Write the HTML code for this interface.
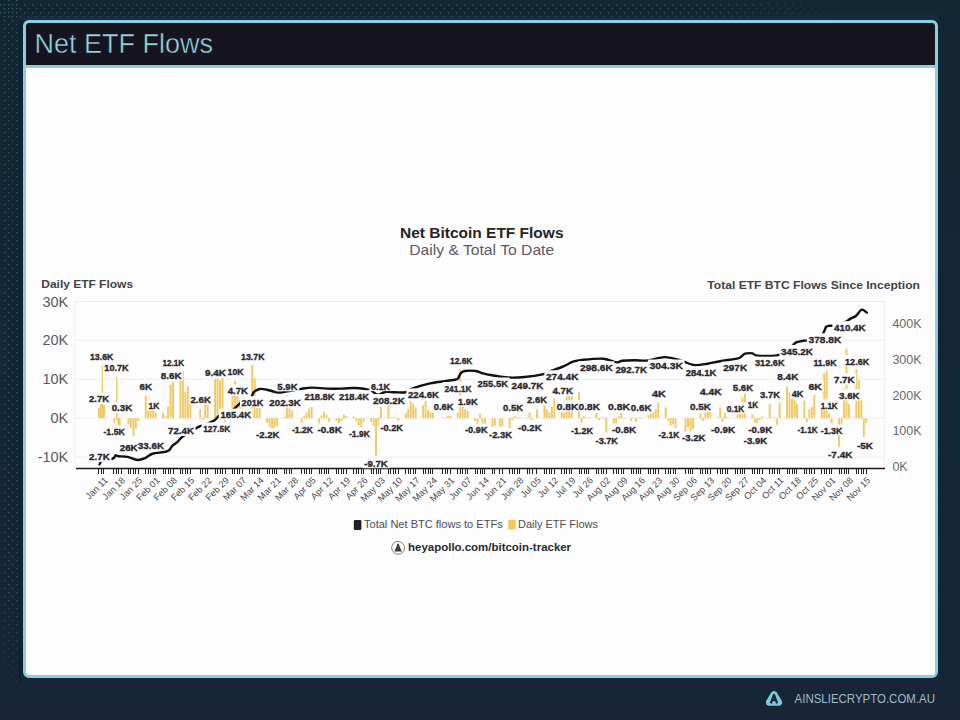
<!DOCTYPE html>
<html><head><meta charset="utf-8"><title>Net ETF Flows</title>
<style>
html,body{margin:0;padding:0;}
body{width:960px;height:720px;overflow:hidden;position:relative;background:linear-gradient(180deg,#112734 0%,#132736 55%,#172536 100%);font-family:"Liberation Sans",sans-serif;}
#dots{position:absolute;left:0;top:0;width:960px;height:720px;}
#frame{position:absolute;left:23px;top:20px;width:909px;height:652px;border:3px solid #8acee0;border-radius:6px;background:#fefdfe;overflow:hidden;}
#hdr{position:absolute;left:0;top:0;width:909px;height:42px;background:#16141f;border-bottom:3px solid #8acee0;}
#hdr span{position:absolute;left:8.5px;top:6px;font-size:27px;color:#98d4e2;letter-spacing:0px;white-space:nowrap;-webkit-text-stroke:0.45px #16141f;}
#foot{position:absolute;left:794px;top:690px;font-size:13px;color:#b9ccd6;white-space:nowrap;}
svg{position:absolute;left:0;top:0;}
</style></head><body>
<svg id="dots" width="960" height="720" viewBox="0 0 960 720">
<defs>
<pattern id="dpt" width="8" height="8" patternUnits="userSpaceOnUse" x="0" y="0">
<circle cx="0.6" cy="4.7" r="0.8" fill="#475f6d"/><circle cx="4.4" cy="0.5" r="0.8" fill="#475f6d"/>
</pattern>
<pattern id="dpl" width="8" height="8" patternUnits="userSpaceOnUse" x="0" y="0">
<circle cx="4.7" cy="4.6" r="0.8" fill="#475f6d"/><circle cx="0.5" cy="0.5" r="0.8" fill="#475f6d"/>
</pattern>
<linearGradient id="gtop" x1="0" y1="0" x2="1" y2="0"><stop offset="0" stop-color="#fff" stop-opacity="0.85"/><stop offset="0.8" stop-color="#fff" stop-opacity="0.75"/><stop offset="1" stop-color="#fff" stop-opacity="0"/></linearGradient>
<linearGradient id="gleft" x1="0" y1="0" x2="0" y2="1"><stop offset="0" stop-color="#fff" stop-opacity="0.85"/><stop offset="0.85" stop-color="#fff" stop-opacity="0.75"/><stop offset="1" stop-color="#fff" stop-opacity="0"/></linearGradient>
<linearGradient id="gsh" x1="0" y1="0" x2="0" y2="1"><stop offset="0" stop-color="#1a2d4c" stop-opacity="0"/><stop offset="1" stop-color="#1a2d4c" stop-opacity="0.7"/></linearGradient>
<mask id="mtop"><rect x="0" y="3" width="870" height="16" fill="url(#gtop)"/></mask>
<mask id="mleft"><rect x="2" y="0" width="17" height="705" fill="url(#gleft)"/></mask>
</defs>
<rect x="0" y="0" width="960" height="720" fill="url(#dpt)" mask="url(#mtop)"/>
<rect x="0" y="0" width="960" height="720" fill="url(#dpl)" mask="url(#mleft)"/>
<rect x="19" y="17" width="4" height="665" fill="#0f1f33" opacity="0.6"/>
<rect x="19" y="12" width="919" height="8" fill="url(#gsh)"/>
</svg>
<div id="frame"><div id="hdr"><span>Net ETF Flows</span></div></div>
<svg width="960" height="720" viewBox="0 0 960 720" font-family="Liberation Sans, sans-serif">
<text x="400" y="237.5" font-size="14.5" font-weight="bold" fill="#262428" textLength="163.5" lengthAdjust="spacingAndGlyphs">Net Bitcoin ETF Flows</text>
<text x="409.2" y="254.6" font-size="14.5" fill="#5c5a5e" textLength="145" lengthAdjust="spacingAndGlyphs">Daily &amp; Total To Date</text>
<text x="41.25" y="287.5" font-size="11.5" font-weight="bold" fill="#444246" textLength="91.8" lengthAdjust="spacingAndGlyphs">Daily ETF Flows</text>
<text x="707.3" y="288.5" font-size="11.5" font-weight="bold" fill="#444246" textLength="212.7" lengthAdjust="spacingAndGlyphs">Total ETF BTC Flows Since Inception</text>
<line x1="75.5" y1="301.5" x2="884.5" y2="301.5" stroke="#efedf1" stroke-width="1"/>
<line x1="75.5" y1="340.4" x2="884.5" y2="340.4" stroke="#efedf1" stroke-width="1"/>
<line x1="75.5" y1="379.3" x2="884.5" y2="379.3" stroke="#efedf1" stroke-width="1"/>
<line x1="75.5" y1="418.2" x2="884.5" y2="418.2" stroke="#efedf1" stroke-width="1"/>
<line x1="75.5" y1="457.1" x2="884.5" y2="457.1" stroke="#efedf1" stroke-width="1"/>
<line x1="75" y1="300" x2="75" y2="468" stroke="#f1eff3" stroke-width="1"/>
<line x1="884.5" y1="300" x2="884.5" y2="468" stroke="#f1eff3" stroke-width="1"/>
<text x="68.3" y="306.5" font-size="14.5" fill="#5a585c" text-anchor="end">30K</text>
<text x="68.3" y="345.4" font-size="14.5" fill="#5a585c" text-anchor="end">20K</text>
<text x="68.3" y="384.3" font-size="14.5" fill="#5a585c" text-anchor="end">10K</text>
<text x="68.3" y="423.2" font-size="14.5" fill="#5a585c" text-anchor="end">0K</text>
<text x="68.3" y="462.1" font-size="14.5" fill="#5a585c" text-anchor="end">-10K</text>
<text x="892.4" y="471.0" font-size="12.5" fill="#6a686c">0K</text>
<text x="892.4" y="435.3" font-size="12.5" fill="#6a686c">100K</text>
<text x="892.4" y="399.6" font-size="12.5" fill="#6a686c">200K</text>
<text x="892.4" y="363.9" font-size="12.5" fill="#6a686c">300K</text>
<text x="892.4" y="328.2" font-size="12.5" fill="#6a686c">400K</text>
<g fill="#efca62">
<rect x="97.95" y="408.09" width="1.9" height="10.11"/>
<rect x="99.95" y="404.20" width="1.9" height="14.00"/>
<rect x="101.65" y="365.30" width="1.3" height="52.90"/>
<rect x="102.95" y="404.97" width="1.9" height="13.23"/>
<rect x="113.45" y="418.20" width="1.9" height="4.67"/>
<rect x="116.05" y="376.97" width="1.5" height="41.23"/>
<rect x="116.05" y="418.20" width="1.5" height="1.56"/>
<rect x="117.55" y="418.20" width="1.5" height="8.56"/>
<rect x="119.00" y="418.20" width="1.6" height="12.45"/>
<rect x="127.49" y="418.20" width="1.9" height="5.83"/>
<rect x="129.96" y="418.20" width="1.9" height="9.72"/>
<rect x="132.44" y="418.20" width="1.9" height="17.50"/>
<rect x="134.91" y="418.20" width="1.9" height="10.89"/>
<rect x="137.39" y="418.20" width="1.9" height="3.11"/>
<rect x="144.82" y="395.64" width="1.9" height="22.56"/>
<rect x="147.29" y="398.36" width="1.9" height="19.84"/>
<rect x="149.77" y="411.20" width="1.9" height="7.00"/>
<rect x="152.25" y="409.25" width="1.9" height="8.95"/>
<rect x="154.72" y="412.37" width="1.9" height="5.83"/>
<rect x="162.15" y="412.75" width="1.9" height="5.45"/>
<rect x="164.63" y="416.25" width="1.9" height="1.95"/>
<rect x="167.10" y="406.53" width="1.9" height="11.67"/>
<rect x="169.58" y="384.75" width="1.9" height="33.45"/>
<rect x="172.05" y="382.02" width="1.9" height="36.18"/>
<rect x="179.48" y="380.86" width="1.9" height="37.34"/>
<rect x="181.96" y="371.13" width="1.9" height="47.07"/>
<rect x="184.43" y="391.75" width="1.9" height="26.45"/>
<rect x="186.91" y="386.30" width="1.9" height="31.90"/>
<rect x="189.39" y="392.91" width="1.9" height="25.29"/>
<rect x="199.29" y="409.25" width="1.9" height="8.95"/>
<rect x="201.77" y="418.20" width="1.9" height="1.95"/>
<rect x="204.24" y="404.58" width="1.9" height="13.62"/>
<rect x="206.72" y="404.58" width="1.9" height="13.62"/>
<rect x="214.15" y="379.30" width="1.9" height="38.90"/>
<rect x="216.62" y="378.13" width="1.9" height="40.07"/>
<rect x="219.10" y="380.08" width="1.9" height="38.12"/>
<rect x="221.57" y="378.13" width="1.9" height="40.07"/>
<rect x="224.05" y="418.20" width="1.9" height="3.89"/>
<rect x="231.48" y="385.52" width="1.9" height="32.68"/>
<rect x="233.95" y="380.86" width="1.9" height="37.34"/>
<rect x="236.43" y="394.86" width="1.9" height="23.34"/>
<rect x="238.91" y="399.92" width="1.9" height="18.28"/>
<rect x="241.38" y="394.86" width="1.9" height="23.34"/>
<rect x="248.81" y="409.25" width="1.9" height="8.95"/>
<rect x="251.29" y="364.91" width="1.9" height="53.29"/>
<rect x="253.76" y="378.52" width="1.9" height="39.68"/>
<rect x="256.24" y="407.70" width="1.9" height="10.50"/>
<rect x="258.71" y="408.09" width="1.9" height="10.11"/>
<rect x="266.14" y="418.20" width="1.9" height="4.67"/>
<rect x="268.62" y="418.20" width="1.9" height="8.95"/>
<rect x="271.09" y="418.20" width="1.9" height="11.28"/>
<rect x="273.57" y="418.20" width="1.9" height="9.72"/>
<rect x="276.05" y="418.20" width="1.9" height="7.78"/>
<rect x="283.47" y="417.03" width="1.9" height="1.17"/>
<rect x="285.95" y="395.25" width="1.9" height="22.95"/>
<rect x="288.43" y="408.47" width="1.9" height="9.72"/>
<rect x="290.90" y="410.42" width="1.9" height="7.78"/>
<rect x="300.81" y="418.20" width="1.9" height="4.67"/>
<rect x="303.28" y="415.48" width="1.9" height="2.72"/>
<rect x="305.76" y="412.37" width="1.9" height="5.83"/>
<rect x="308.23" y="408.47" width="1.9" height="9.72"/>
<rect x="310.71" y="406.92" width="1.9" height="11.28"/>
<rect x="318.14" y="418.20" width="1.9" height="8.17"/>
<rect x="320.61" y="415.48" width="1.9" height="2.72"/>
<rect x="323.09" y="411.98" width="1.9" height="6.22"/>
<rect x="325.57" y="414.70" width="1.9" height="3.50"/>
<rect x="328.04" y="418.20" width="1.9" height="3.50"/>
<rect x="335.47" y="418.20" width="1.9" height="2.72"/>
<rect x="337.95" y="418.20" width="1.9" height="6.22"/>
<rect x="340.42" y="418.20" width="1.9" height="2.72"/>
<rect x="342.90" y="414.70" width="1.9" height="3.50"/>
<rect x="345.37" y="416.25" width="1.9" height="1.95"/>
<rect x="352.80" y="416.25" width="1.9" height="1.95"/>
<rect x="355.28" y="418.20" width="1.9" height="2.72"/>
<rect x="357.75" y="418.20" width="1.9" height="7.39"/>
<rect x="360.23" y="418.20" width="1.9" height="8.95"/>
<rect x="362.71" y="418.20" width="1.9" height="3.50"/>
<rect x="370.13" y="418.20" width="1.9" height="3.50"/>
<rect x="372.61" y="418.20" width="1.9" height="7.39"/>
<rect x="375.09" y="418.20" width="1.9" height="37.73"/>
<rect x="377.56" y="418.20" width="1.9" height="7.39"/>
<rect x="380.04" y="407.31" width="1.9" height="10.89"/>
<rect x="387.47" y="405.36" width="1.9" height="12.84"/>
<rect x="389.94" y="417.42" width="1.9" height="0.78"/>
<rect x="392.42" y="417.42" width="1.9" height="0.78"/>
<rect x="394.89" y="417.81" width="1.9" height="0.39"/>
<rect x="397.37" y="418.20" width="1.9" height="3.50"/>
<rect x="404.80" y="413.53" width="1.9" height="4.67"/>
<rect x="407.27" y="409.25" width="1.9" height="8.95"/>
<rect x="409.75" y="401.08" width="1.9" height="17.12"/>
<rect x="412.23" y="403.81" width="1.9" height="14.39"/>
<rect x="414.70" y="407.31" width="1.9" height="10.89"/>
<rect x="422.13" y="405.36" width="1.9" height="12.84"/>
<rect x="424.61" y="401.08" width="1.9" height="17.12"/>
<rect x="427.08" y="410.03" width="1.9" height="8.17"/>
<rect x="429.56" y="411.98" width="1.9" height="6.22"/>
<rect x="432.03" y="412.75" width="1.9" height="5.45"/>
<rect x="441.94" y="417.42" width="1.9" height="0.78"/>
<rect x="444.41" y="417.42" width="1.9" height="0.78"/>
<rect x="446.89" y="416.25" width="1.9" height="1.95"/>
<rect x="449.37" y="415.87" width="1.9" height="2.33"/>
<rect x="456.79" y="412.75" width="1.9" height="5.45"/>
<rect x="459.27" y="369.19" width="1.9" height="49.01"/>
<rect x="461.75" y="403.81" width="1.9" height="14.39"/>
<rect x="464.22" y="409.25" width="1.9" height="8.95"/>
<rect x="466.70" y="410.81" width="1.9" height="7.39"/>
<rect x="474.13" y="418.20" width="1.9" height="2.72"/>
<rect x="476.60" y="418.20" width="1.9" height="6.22"/>
<rect x="479.08" y="413.53" width="1.9" height="4.67"/>
<rect x="481.55" y="418.20" width="1.9" height="7.39"/>
<rect x="484.03" y="418.20" width="1.9" height="7.39"/>
<rect x="491.46" y="418.20" width="1.9" height="8.95"/>
<rect x="493.93" y="418.20" width="1.9" height="7.39"/>
<rect x="498.89" y="418.20" width="1.9" height="8.17"/>
<rect x="501.36" y="418.20" width="1.9" height="8.17"/>
<rect x="508.79" y="418.20" width="1.9" height="10.89"/>
<rect x="511.27" y="418.20" width="1.9" height="1.95"/>
<rect x="513.74" y="416.25" width="1.9" height="1.95"/>
<rect x="516.22" y="417.42" width="1.9" height="0.78"/>
<rect x="518.69" y="417.42" width="1.9" height="0.78"/>
<rect x="526.12" y="417.42" width="1.9" height="0.78"/>
<rect x="528.60" y="412.75" width="1.9" height="5.45"/>
<rect x="531.07" y="418.20" width="1.9" height="1.95"/>
<rect x="536.03" y="409.25" width="1.9" height="8.95"/>
<rect x="543.45" y="405.36" width="1.9" height="12.84"/>
<rect x="545.93" y="409.25" width="1.9" height="8.95"/>
<rect x="548.41" y="412.75" width="1.9" height="5.45"/>
<rect x="550.88" y="406.53" width="1.9" height="11.67"/>
<rect x="553.36" y="398.36" width="1.9" height="19.84"/>
<rect x="560.79" y="411.98" width="1.9" height="6.22"/>
<rect x="563.26" y="412.75" width="1.9" height="5.45"/>
<rect x="565.74" y="396.42" width="1.9" height="21.78"/>
<rect x="568.21" y="394.86" width="1.9" height="23.34"/>
<rect x="570.69" y="396.42" width="1.9" height="21.78"/>
<rect x="578.12" y="391.75" width="1.9" height="26.45"/>
<rect x="580.59" y="418.20" width="1.9" height="4.67"/>
<rect x="583.07" y="416.25" width="1.9" height="1.95"/>
<rect x="585.55" y="417.42" width="1.9" height="0.78"/>
<rect x="588.02" y="417.42" width="1.9" height="0.78"/>
<rect x="595.45" y="412.75" width="1.9" height="5.45"/>
<rect x="597.93" y="418.20" width="1.9" height="1.95"/>
<rect x="600.40" y="417.81" width="1.9" height="0.39"/>
<rect x="602.88" y="417.42" width="1.9" height="0.78"/>
<rect x="605.35" y="418.20" width="1.9" height="14.39"/>
<rect x="612.78" y="418.20" width="1.9" height="8.95"/>
<rect x="615.26" y="418.20" width="1.9" height="5.45"/>
<rect x="617.73" y="416.25" width="1.9" height="1.95"/>
<rect x="620.21" y="412.75" width="1.9" height="5.45"/>
<rect x="622.69" y="417.42" width="1.9" height="0.78"/>
<rect x="630.11" y="418.20" width="1.9" height="2.72"/>
<rect x="632.59" y="417.42" width="1.9" height="0.78"/>
<rect x="635.07" y="418.20" width="1.9" height="3.50"/>
<rect x="637.54" y="417.42" width="1.9" height="0.78"/>
<rect x="640.02" y="417.42" width="1.9" height="0.78"/>
<rect x="647.45" y="414.70" width="1.9" height="3.50"/>
<rect x="649.92" y="413.53" width="1.9" height="4.67"/>
<rect x="652.40" y="411.98" width="1.9" height="6.22"/>
<rect x="654.87" y="409.25" width="1.9" height="8.95"/>
<rect x="657.35" y="402.64" width="1.9" height="15.56"/>
<rect x="664.78" y="407.31" width="1.9" height="10.89"/>
<rect x="667.25" y="418.20" width="1.9" height="2.72"/>
<rect x="669.73" y="418.20" width="1.9" height="7.39"/>
<rect x="672.21" y="418.20" width="1.9" height="6.22"/>
<rect x="674.68" y="418.20" width="1.9" height="11.67"/>
<rect x="684.59" y="418.20" width="1.9" height="15.56"/>
<rect x="687.06" y="418.20" width="1.9" height="8.95"/>
<rect x="689.54" y="418.20" width="1.9" height="12.84"/>
<rect x="692.01" y="418.20" width="1.9" height="10.89"/>
<rect x="699.44" y="413.53" width="1.9" height="4.67"/>
<rect x="701.92" y="418.20" width="1.9" height="2.72"/>
<rect x="704.39" y="412.75" width="1.9" height="5.45"/>
<rect x="706.87" y="401.86" width="1.9" height="16.34"/>
<rect x="709.35" y="411.98" width="1.9" height="6.22"/>
<rect x="716.77" y="417.42" width="1.9" height="0.78"/>
<rect x="719.25" y="407.31" width="1.9" height="10.89"/>
<rect x="721.73" y="418.20" width="1.9" height="3.50"/>
<rect x="724.20" y="412.75" width="1.9" height="5.45"/>
<rect x="726.68" y="417.42" width="1.9" height="0.78"/>
<rect x="734.11" y="417.81" width="1.9" height="0.39"/>
<rect x="736.58" y="414.31" width="1.9" height="3.89"/>
<rect x="739.06" y="413.92" width="1.9" height="4.28"/>
<rect x="741.53" y="397.58" width="1.9" height="20.62"/>
<rect x="744.01" y="393.69" width="1.9" height="24.51"/>
<rect x="751.44" y="414.31" width="1.9" height="3.89"/>
<rect x="753.91" y="418.20" width="1.9" height="6.22"/>
<rect x="756.39" y="418.20" width="1.9" height="4.67"/>
<rect x="758.87" y="418.20" width="1.9" height="1.95"/>
<rect x="761.34" y="416.64" width="1.9" height="1.56"/>
<rect x="768.77" y="403.81" width="1.9" height="14.39"/>
<rect x="771.25" y="417.81" width="1.9" height="0.39"/>
<rect x="773.72" y="417.81" width="1.9" height="0.39"/>
<rect x="776.20" y="418.20" width="1.9" height="6.61"/>
<rect x="778.67" y="402.25" width="1.9" height="15.95"/>
<rect x="786.10" y="386.69" width="1.9" height="31.51"/>
<rect x="788.58" y="392.14" width="1.9" height="26.06"/>
<rect x="791.05" y="398.75" width="1.9" height="19.45"/>
<rect x="793.53" y="399.53" width="1.9" height="18.67"/>
<rect x="796.01" y="403.81" width="1.9" height="14.39"/>
<rect x="803.43" y="400.69" width="1.9" height="17.50"/>
<rect x="805.91" y="418.20" width="1.9" height="3.89"/>
<rect x="808.39" y="409.25" width="1.9" height="8.95"/>
<rect x="810.86" y="406.92" width="1.9" height="11.28"/>
<rect x="813.34" y="394.86" width="1.9" height="23.34"/>
<rect x="820.77" y="400.31" width="1.9" height="17.89"/>
<rect x="823.24" y="373.08" width="1.9" height="45.12"/>
<rect x="825.72" y="370.74" width="1.9" height="47.46"/>
<rect x="828.19" y="413.53" width="1.9" height="4.67"/>
<rect x="830.67" y="418.20" width="1.9" height="5.06"/>
<rect x="838.10" y="418.20" width="1.9" height="28.79"/>
<rect x="840.57" y="418.20" width="1.9" height="6.61"/>
<rect x="843.05" y="388.25" width="1.9" height="29.95"/>
<rect x="845.53" y="348.96" width="1.9" height="69.24"/>
<rect x="848.00" y="404.20" width="1.9" height="14.00"/>
<rect x="855.43" y="369.19" width="1.9" height="49.01"/>
<rect x="857.91" y="380.08" width="1.9" height="38.12"/>
<rect x="860.38" y="399.92" width="1.9" height="18.28"/>
<rect x="862.86" y="418.20" width="1.9" height="18.67"/>
<rect x="865.33" y="418.20" width="1.9" height="4.67"/>
</g>
<line x1="76" y1="468.5" x2="885" y2="468.5" stroke="#1a1a1a" stroke-width="1.6"/>
<g stroke="#222" stroke-width="1">
<line x1="98.5" y1="469" x2="98.5" y2="474"/>
<line x1="101.5" y1="469" x2="101.5" y2="474"/>
<line x1="103.5" y1="469" x2="103.5" y2="474"/>
<line x1="113.5" y1="469" x2="113.5" y2="474"/>
<line x1="116.5" y1="469" x2="116.5" y2="474"/>
<line x1="118.5" y1="469" x2="118.5" y2="474"/>
<line x1="121.5" y1="469" x2="121.5" y2="474"/>
<line x1="128.5" y1="469" x2="128.5" y2="474"/>
<line x1="130.5" y1="469" x2="130.5" y2="474"/>
<line x1="133.5" y1="469" x2="133.5" y2="474"/>
<line x1="135.5" y1="469" x2="135.5" y2="474"/>
<line x1="138.5" y1="469" x2="138.5" y2="474"/>
<line x1="145.5" y1="469" x2="145.5" y2="474"/>
<line x1="148.5" y1="469" x2="148.5" y2="474"/>
<line x1="150.5" y1="469" x2="150.5" y2="474"/>
<line x1="153.5" y1="469" x2="153.5" y2="474"/>
<line x1="155.5" y1="469" x2="155.5" y2="474"/>
<line x1="163.5" y1="469" x2="163.5" y2="474"/>
<line x1="165.5" y1="469" x2="165.5" y2="474"/>
<line x1="168.5" y1="469" x2="168.5" y2="474"/>
<line x1="170.5" y1="469" x2="170.5" y2="474"/>
<line x1="173.5" y1="469" x2="173.5" y2="474"/>
<line x1="180.5" y1="469" x2="180.5" y2="474"/>
<line x1="182.5" y1="469" x2="182.5" y2="474"/>
<line x1="185.5" y1="469" x2="185.5" y2="474"/>
<line x1="187.5" y1="469" x2="187.5" y2="474"/>
<line x1="190.5" y1="469" x2="190.5" y2="474"/>
<line x1="200.5" y1="469" x2="200.5" y2="474"/>
<line x1="202.5" y1="469" x2="202.5" y2="474"/>
<line x1="205.5" y1="469" x2="205.5" y2="474"/>
<line x1="207.5" y1="469" x2="207.5" y2="474"/>
<line x1="215.5" y1="469" x2="215.5" y2="474"/>
<line x1="217.5" y1="469" x2="217.5" y2="474"/>
<line x1="220.5" y1="469" x2="220.5" y2="474"/>
<line x1="222.5" y1="469" x2="222.5" y2="474"/>
<line x1="225.5" y1="469" x2="225.5" y2="474"/>
<line x1="232.5" y1="469" x2="232.5" y2="474"/>
<line x1="234.5" y1="469" x2="234.5" y2="474"/>
<line x1="237.5" y1="469" x2="237.5" y2="474"/>
<line x1="239.5" y1="469" x2="239.5" y2="474"/>
<line x1="242.5" y1="469" x2="242.5" y2="474"/>
<line x1="249.5" y1="469" x2="249.5" y2="474"/>
<line x1="252.5" y1="469" x2="252.5" y2="474"/>
<line x1="254.5" y1="469" x2="254.5" y2="474"/>
<line x1="257.5" y1="469" x2="257.5" y2="474"/>
<line x1="259.5" y1="469" x2="259.5" y2="474"/>
<line x1="267.5" y1="469" x2="267.5" y2="474"/>
<line x1="269.5" y1="469" x2="269.5" y2="474"/>
<line x1="272.5" y1="469" x2="272.5" y2="474"/>
<line x1="274.5" y1="469" x2="274.5" y2="474"/>
<line x1="276.5" y1="469" x2="276.5" y2="474"/>
<line x1="284.5" y1="469" x2="284.5" y2="474"/>
<line x1="286.5" y1="469" x2="286.5" y2="474"/>
<line x1="289.5" y1="469" x2="289.5" y2="474"/>
<line x1="291.5" y1="469" x2="291.5" y2="474"/>
<line x1="301.5" y1="469" x2="301.5" y2="474"/>
<line x1="304.5" y1="469" x2="304.5" y2="474"/>
<line x1="306.5" y1="469" x2="306.5" y2="474"/>
<line x1="309.5" y1="469" x2="309.5" y2="474"/>
<line x1="311.5" y1="469" x2="311.5" y2="474"/>
<line x1="319.5" y1="469" x2="319.5" y2="474"/>
<line x1="321.5" y1="469" x2="321.5" y2="474"/>
<line x1="324.5" y1="469" x2="324.5" y2="474"/>
<line x1="326.5" y1="469" x2="326.5" y2="474"/>
<line x1="328.5" y1="469" x2="328.5" y2="474"/>
<line x1="336.5" y1="469" x2="336.5" y2="474"/>
<line x1="338.5" y1="469" x2="338.5" y2="474"/>
<line x1="341.5" y1="469" x2="341.5" y2="474"/>
<line x1="343.5" y1="469" x2="343.5" y2="474"/>
<line x1="346.5" y1="469" x2="346.5" y2="474"/>
<line x1="353.5" y1="469" x2="353.5" y2="474"/>
<line x1="356.5" y1="469" x2="356.5" y2="474"/>
<line x1="358.5" y1="469" x2="358.5" y2="474"/>
<line x1="361.5" y1="469" x2="361.5" y2="474"/>
<line x1="363.5" y1="469" x2="363.5" y2="474"/>
<line x1="371.5" y1="469" x2="371.5" y2="474"/>
<line x1="373.5" y1="469" x2="373.5" y2="474"/>
<line x1="376.5" y1="469" x2="376.5" y2="474"/>
<line x1="378.5" y1="469" x2="378.5" y2="474"/>
<line x1="380.5" y1="469" x2="380.5" y2="474"/>
<line x1="388.5" y1="469" x2="388.5" y2="474"/>
<line x1="390.5" y1="469" x2="390.5" y2="474"/>
<line x1="393.5" y1="469" x2="393.5" y2="474"/>
<line x1="395.5" y1="469" x2="395.5" y2="474"/>
<line x1="398.5" y1="469" x2="398.5" y2="474"/>
<line x1="405.5" y1="469" x2="405.5" y2="474"/>
<line x1="408.5" y1="469" x2="408.5" y2="474"/>
<line x1="410.5" y1="469" x2="410.5" y2="474"/>
<line x1="413.5" y1="469" x2="413.5" y2="474"/>
<line x1="415.5" y1="469" x2="415.5" y2="474"/>
<line x1="423.5" y1="469" x2="423.5" y2="474"/>
<line x1="425.5" y1="469" x2="425.5" y2="474"/>
<line x1="428.5" y1="469" x2="428.5" y2="474"/>
<line x1="430.5" y1="469" x2="430.5" y2="474"/>
<line x1="432.5" y1="469" x2="432.5" y2="474"/>
<line x1="442.5" y1="469" x2="442.5" y2="474"/>
<line x1="445.5" y1="469" x2="445.5" y2="474"/>
<line x1="447.5" y1="469" x2="447.5" y2="474"/>
<line x1="450.5" y1="469" x2="450.5" y2="474"/>
<line x1="457.5" y1="469" x2="457.5" y2="474"/>
<line x1="460.5" y1="469" x2="460.5" y2="474"/>
<line x1="462.5" y1="469" x2="462.5" y2="474"/>
<line x1="465.5" y1="469" x2="465.5" y2="474"/>
<line x1="467.5" y1="469" x2="467.5" y2="474"/>
<line x1="475.5" y1="469" x2="475.5" y2="474"/>
<line x1="477.5" y1="469" x2="477.5" y2="474"/>
<line x1="480.5" y1="469" x2="480.5" y2="474"/>
<line x1="482.5" y1="469" x2="482.5" y2="474"/>
<line x1="484.5" y1="469" x2="484.5" y2="474"/>
<line x1="492.5" y1="469" x2="492.5" y2="474"/>
<line x1="494.5" y1="469" x2="494.5" y2="474"/>
<line x1="499.5" y1="469" x2="499.5" y2="474"/>
<line x1="502.5" y1="469" x2="502.5" y2="474"/>
<line x1="509.5" y1="469" x2="509.5" y2="474"/>
<line x1="512.5" y1="469" x2="512.5" y2="474"/>
<line x1="514.5" y1="469" x2="514.5" y2="474"/>
<line x1="517.5" y1="469" x2="517.5" y2="474"/>
<line x1="519.5" y1="469" x2="519.5" y2="474"/>
<line x1="527.5" y1="469" x2="527.5" y2="474"/>
<line x1="529.5" y1="469" x2="529.5" y2="474"/>
<line x1="532.5" y1="469" x2="532.5" y2="474"/>
<line x1="536.5" y1="469" x2="536.5" y2="474"/>
<line x1="544.5" y1="469" x2="544.5" y2="474"/>
<line x1="546.5" y1="469" x2="546.5" y2="474"/>
<line x1="549.5" y1="469" x2="549.5" y2="474"/>
<line x1="551.5" y1="469" x2="551.5" y2="474"/>
<line x1="554.5" y1="469" x2="554.5" y2="474"/>
<line x1="561.5" y1="469" x2="561.5" y2="474"/>
<line x1="564.5" y1="469" x2="564.5" y2="474"/>
<line x1="566.5" y1="469" x2="566.5" y2="474"/>
<line x1="569.5" y1="469" x2="569.5" y2="474"/>
<line x1="571.5" y1="469" x2="571.5" y2="474"/>
<line x1="579.5" y1="469" x2="579.5" y2="474"/>
<line x1="581.5" y1="469" x2="581.5" y2="474"/>
<line x1="584.5" y1="469" x2="584.5" y2="474"/>
<line x1="586.5" y1="469" x2="586.5" y2="474"/>
<line x1="588.5" y1="469" x2="588.5" y2="474"/>
<line x1="596.5" y1="469" x2="596.5" y2="474"/>
<line x1="598.5" y1="469" x2="598.5" y2="474"/>
<line x1="601.5" y1="469" x2="601.5" y2="474"/>
<line x1="603.5" y1="469" x2="603.5" y2="474"/>
<line x1="606.5" y1="469" x2="606.5" y2="474"/>
<line x1="613.5" y1="469" x2="613.5" y2="474"/>
<line x1="616.5" y1="469" x2="616.5" y2="474"/>
<line x1="618.5" y1="469" x2="618.5" y2="474"/>
<line x1="621.5" y1="469" x2="621.5" y2="474"/>
<line x1="623.5" y1="469" x2="623.5" y2="474"/>
<line x1="631.5" y1="469" x2="631.5" y2="474"/>
<line x1="633.5" y1="469" x2="633.5" y2="474"/>
<line x1="636.5" y1="469" x2="636.5" y2="474"/>
<line x1="638.5" y1="469" x2="638.5" y2="474"/>
<line x1="640.5" y1="469" x2="640.5" y2="474"/>
<line x1="648.5" y1="469" x2="648.5" y2="474"/>
<line x1="650.5" y1="469" x2="650.5" y2="474"/>
<line x1="653.5" y1="469" x2="653.5" y2="474"/>
<line x1="655.5" y1="469" x2="655.5" y2="474"/>
<line x1="658.5" y1="469" x2="658.5" y2="474"/>
<line x1="665.5" y1="469" x2="665.5" y2="474"/>
<line x1="668.5" y1="469" x2="668.5" y2="474"/>
<line x1="670.5" y1="469" x2="670.5" y2="474"/>
<line x1="673.5" y1="469" x2="673.5" y2="474"/>
<line x1="675.5" y1="469" x2="675.5" y2="474"/>
<line x1="685.5" y1="469" x2="685.5" y2="474"/>
<line x1="688.5" y1="469" x2="688.5" y2="474"/>
<line x1="690.5" y1="469" x2="690.5" y2="474"/>
<line x1="692.5" y1="469" x2="692.5" y2="474"/>
<line x1="700.5" y1="469" x2="700.5" y2="474"/>
<line x1="702.5" y1="469" x2="702.5" y2="474"/>
<line x1="705.5" y1="469" x2="705.5" y2="474"/>
<line x1="707.5" y1="469" x2="707.5" y2="474"/>
<line x1="710.5" y1="469" x2="710.5" y2="474"/>
<line x1="717.5" y1="469" x2="717.5" y2="474"/>
<line x1="720.5" y1="469" x2="720.5" y2="474"/>
<line x1="722.5" y1="469" x2="722.5" y2="474"/>
<line x1="725.5" y1="469" x2="725.5" y2="474"/>
<line x1="727.5" y1="469" x2="727.5" y2="474"/>
<line x1="735.5" y1="469" x2="735.5" y2="474"/>
<line x1="737.5" y1="469" x2="737.5" y2="474"/>
<line x1="740.5" y1="469" x2="740.5" y2="474"/>
<line x1="742.5" y1="469" x2="742.5" y2="474"/>
<line x1="744.5" y1="469" x2="744.5" y2="474"/>
<line x1="752.5" y1="469" x2="752.5" y2="474"/>
<line x1="754.5" y1="469" x2="754.5" y2="474"/>
<line x1="757.5" y1="469" x2="757.5" y2="474"/>
<line x1="759.5" y1="469" x2="759.5" y2="474"/>
<line x1="762.5" y1="469" x2="762.5" y2="474"/>
<line x1="769.5" y1="469" x2="769.5" y2="474"/>
<line x1="772.5" y1="469" x2="772.5" y2="474"/>
<line x1="774.5" y1="469" x2="774.5" y2="474"/>
<line x1="777.5" y1="469" x2="777.5" y2="474"/>
<line x1="779.5" y1="469" x2="779.5" y2="474"/>
<line x1="787.5" y1="469" x2="787.5" y2="474"/>
<line x1="789.5" y1="469" x2="789.5" y2="474"/>
<line x1="792.5" y1="469" x2="792.5" y2="474"/>
<line x1="794.5" y1="469" x2="794.5" y2="474"/>
<line x1="796.5" y1="469" x2="796.5" y2="474"/>
<line x1="804.5" y1="469" x2="804.5" y2="474"/>
<line x1="806.5" y1="469" x2="806.5" y2="474"/>
<line x1="809.5" y1="469" x2="809.5" y2="474"/>
<line x1="811.5" y1="469" x2="811.5" y2="474"/>
<line x1="814.5" y1="469" x2="814.5" y2="474"/>
<line x1="821.5" y1="469" x2="821.5" y2="474"/>
<line x1="824.5" y1="469" x2="824.5" y2="474"/>
<line x1="826.5" y1="469" x2="826.5" y2="474"/>
<line x1="829.5" y1="469" x2="829.5" y2="474"/>
<line x1="831.5" y1="469" x2="831.5" y2="474"/>
<line x1="839.5" y1="469" x2="839.5" y2="474"/>
<line x1="841.5" y1="469" x2="841.5" y2="474"/>
<line x1="844.5" y1="469" x2="844.5" y2="474"/>
<line x1="846.5" y1="469" x2="846.5" y2="474"/>
<line x1="848.5" y1="469" x2="848.5" y2="474"/>
<line x1="856.5" y1="469" x2="856.5" y2="474"/>
<line x1="858.5" y1="469" x2="858.5" y2="474"/>
<line x1="861.5" y1="469" x2="861.5" y2="474"/>
<line x1="863.5" y1="469" x2="863.5" y2="474"/>
<line x1="866.5" y1="469" x2="866.5" y2="474"/>
</g>
<text transform="translate(108.3,481) rotate(-45)" font-size="9.2" fill="#4a484c" text-anchor="end">Jan 11</text>
<text transform="translate(125.6,481) rotate(-45)" font-size="9.2" fill="#4a484c" text-anchor="end">Jan 18</text>
<text transform="translate(142.9,481) rotate(-45)" font-size="9.2" fill="#4a484c" text-anchor="end">Jan 25</text>
<text transform="translate(160.3,481) rotate(-45)" font-size="9.2" fill="#4a484c" text-anchor="end">Feb 01</text>
<text transform="translate(177.6,481) rotate(-45)" font-size="9.2" fill="#4a484c" text-anchor="end">Feb 08</text>
<text transform="translate(194.9,481) rotate(-45)" font-size="9.2" fill="#4a484c" text-anchor="end">Feb 15</text>
<text transform="translate(212.3,481) rotate(-45)" font-size="9.2" fill="#4a484c" text-anchor="end">Feb 22</text>
<text transform="translate(229.6,481) rotate(-45)" font-size="9.2" fill="#4a484c" text-anchor="end">Feb 29</text>
<text transform="translate(246.9,481) rotate(-45)" font-size="9.2" fill="#4a484c" text-anchor="end">Mar 07</text>
<text transform="translate(264.3,481) rotate(-45)" font-size="9.2" fill="#4a484c" text-anchor="end">Mar 14</text>
<text transform="translate(281.6,481) rotate(-45)" font-size="9.2" fill="#4a484c" text-anchor="end">Mar 21</text>
<text transform="translate(298.9,481) rotate(-45)" font-size="9.2" fill="#4a484c" text-anchor="end">Mar 28</text>
<text transform="translate(316.3,481) rotate(-45)" font-size="9.2" fill="#4a484c" text-anchor="end">Apr 05</text>
<text transform="translate(333.6,481) rotate(-45)" font-size="9.2" fill="#4a484c" text-anchor="end">Apr 12</text>
<text transform="translate(350.9,481) rotate(-45)" font-size="9.2" fill="#4a484c" text-anchor="end">Apr 19</text>
<text transform="translate(368.3,481) rotate(-45)" font-size="9.2" fill="#4a484c" text-anchor="end">Apr 26</text>
<text transform="translate(385.6,481) rotate(-45)" font-size="9.2" fill="#4a484c" text-anchor="end">May 03</text>
<text transform="translate(402.9,481) rotate(-45)" font-size="9.2" fill="#4a484c" text-anchor="end">May 10</text>
<text transform="translate(420.3,481) rotate(-45)" font-size="9.2" fill="#4a484c" text-anchor="end">May 17</text>
<text transform="translate(437.6,481) rotate(-45)" font-size="9.2" fill="#4a484c" text-anchor="end">May 24</text>
<text transform="translate(454.9,481) rotate(-45)" font-size="9.2" fill="#4a484c" text-anchor="end">May 31</text>
<text transform="translate(472.2,481) rotate(-45)" font-size="9.2" fill="#4a484c" text-anchor="end">Jun 07</text>
<text transform="translate(489.6,481) rotate(-45)" font-size="9.2" fill="#4a484c" text-anchor="end">Jun 14</text>
<text transform="translate(506.9,481) rotate(-45)" font-size="9.2" fill="#4a484c" text-anchor="end">Jun 21</text>
<text transform="translate(524.2,481) rotate(-45)" font-size="9.2" fill="#4a484c" text-anchor="end">Jun 28</text>
<text transform="translate(541.6,481) rotate(-45)" font-size="9.2" fill="#4a484c" text-anchor="end">Jul 05</text>
<text transform="translate(558.9,481) rotate(-45)" font-size="9.2" fill="#4a484c" text-anchor="end">Jul 12</text>
<text transform="translate(576.2,481) rotate(-45)" font-size="9.2" fill="#4a484c" text-anchor="end">Jul 19</text>
<text transform="translate(593.6,481) rotate(-45)" font-size="9.2" fill="#4a484c" text-anchor="end">Jul 26</text>
<text transform="translate(610.9,481) rotate(-45)" font-size="9.2" fill="#4a484c" text-anchor="end">Aug 02</text>
<text transform="translate(628.2,481) rotate(-45)" font-size="9.2" fill="#4a484c" text-anchor="end">Aug 09</text>
<text transform="translate(645.6,481) rotate(-45)" font-size="9.2" fill="#4a484c" text-anchor="end">Aug 16</text>
<text transform="translate(662.9,481) rotate(-45)" font-size="9.2" fill="#4a484c" text-anchor="end">Aug 23</text>
<text transform="translate(680.2,481) rotate(-45)" font-size="9.2" fill="#4a484c" text-anchor="end">Aug 30</text>
<text transform="translate(697.6,481) rotate(-45)" font-size="9.2" fill="#4a484c" text-anchor="end">Sep 06</text>
<text transform="translate(714.9,481) rotate(-45)" font-size="9.2" fill="#4a484c" text-anchor="end">Sep 13</text>
<text transform="translate(732.2,481) rotate(-45)" font-size="9.2" fill="#4a484c" text-anchor="end">Sep 20</text>
<text transform="translate(749.6,481) rotate(-45)" font-size="9.2" fill="#4a484c" text-anchor="end">Sep 27</text>
<text transform="translate(766.9,481) rotate(-45)" font-size="9.2" fill="#4a484c" text-anchor="end">Oct 04</text>
<text transform="translate(784.2,481) rotate(-45)" font-size="9.2" fill="#4a484c" text-anchor="end">Oct 11</text>
<text transform="translate(801.6,481) rotate(-45)" font-size="9.2" fill="#4a484c" text-anchor="end">Oct 18</text>
<text transform="translate(818.9,481) rotate(-45)" font-size="9.2" fill="#4a484c" text-anchor="end">Oct 25</text>
<text transform="translate(836.2,481) rotate(-45)" font-size="9.2" fill="#4a484c" text-anchor="end">Nov 01</text>
<text transform="translate(853.6,481) rotate(-45)" font-size="9.2" fill="#4a484c" text-anchor="end">Nov 08</text>
<text transform="translate(870.9,481) rotate(-45)" font-size="9.2" fill="#4a484c" text-anchor="end">Nov 15</text>
<path d="M99.4,464.6 L102,459.8" stroke="#111" stroke-width="2.2" fill="none" stroke-linecap="round"/>
<path d="M111.9,458.9 C112.28,458.68 113.58,458.22 114.2,457.6 C114.82,456.98 114.95,455.43 115.6,455.2 C116.25,454.97 116.12,455.92 118.1,456.2 C120.08,456.48 124.27,456.27 127.5,456.9 C130.73,457.53 134.58,459.80 137.5,460 C140.42,460.20 142.50,459.14 145,458.1 C147.50,457.06 148.75,454.90 152.5,453.75 C156.25,452.60 164.17,452.56 167.5,451.2 C170.83,449.84 170.83,447.15 172.5,445.6 C174.17,444.05 175.73,443.46 177.5,441.9 C179.27,440.34 179.60,438.75 183.1,436.25 C186.60,433.75 194.58,428.94 198.5,426.9 C202.42,424.86 203.92,425.10 206.6,424 C209.28,422.90 212.42,421.77 214.6,420.3 C216.78,418.83 217.80,416.42 219.7,415.2 C221.60,413.98 223.82,413.87 226,413 C228.18,412.13 230.33,411.70 232.8,410 C235.27,408.30 238.60,404.47 240.8,402.8 C243.00,401.13 244.30,400.85 246,400 C247.70,399.15 249.67,399.05 251,397.7 C252.33,396.35 252.53,393.35 254,391.9 C255.47,390.45 257.63,389.37 259.8,389 C261.97,388.63 264.13,389.13 267,389.7 C269.87,390.27 274.33,391.98 277,392.4 C279.67,392.82 281.00,392.43 283,392.2 C285.00,391.97 286.07,391.53 289,391 C291.93,390.47 296.77,389.57 300.6,389 C304.43,388.43 307.60,387.67 312,387.6 C316.40,387.53 322.00,388.43 327,388.6 C332.00,388.77 337.33,388.70 342,388.6 C346.67,388.50 350.33,387.73 355,388 C359.67,388.27 366.25,389.08 370,390.2 C373.75,391.32 375.00,394.40 377.5,394.7 C380.00,395.00 382.08,392.40 385,392 C387.92,391.60 391.55,392.25 395,392.3 C398.45,392.35 402.98,392.85 405.7,392.3 C408.42,391.75 407.25,390.48 411.3,389 C415.35,387.52 422.80,384.93 430,383.4 C437.20,381.87 449.83,380.65 454.5,379.8 C459.17,378.95 456.97,379.37 458,378.3 C459.03,377.23 459.53,374.62 460.7,373.4 C461.87,372.18 462.48,371.40 465,371 C467.52,370.60 472.80,370.60 475.8,371 C478.80,371.40 480.30,372.70 483,373.4 C485.70,374.10 487.83,374.52 492,375.2 C496.17,375.88 502.57,377.20 508,377.5 C513.43,377.80 518.83,377.53 524.6,377 C530.37,376.47 538.10,375.35 542.6,374.3 C547.10,373.25 549.03,371.67 551.6,370.7 C554.17,369.73 555.93,369.25 558,368.5 C560.07,367.75 561.50,367.33 564,366.2 C566.50,365.07 570.00,362.75 573,361.7 C576.00,360.65 576.95,360.40 582,359.9 C587.05,359.40 597.52,358.28 603.3,358.7 C609.08,359.12 613.58,362.05 616.7,362.4 C619.82,362.75 618.95,361.15 622,360.8 C625.05,360.45 630.67,360.35 635,360.3 C639.33,360.25 643.00,361.03 648,360.5 C653.00,359.97 659.47,357.08 665,357.1 C670.53,357.12 676.42,359.28 681.2,360.6 C685.98,361.92 689.32,364.48 693.7,365 C698.08,365.52 703.12,364.33 707.5,363.7 C711.88,363.07 715.08,362.05 720,361.2 C724.92,360.35 733.42,359.38 737,358.6 C740.58,357.82 740.17,357.32 741.5,356.5 C742.83,355.68 743.17,354.22 745,353.7 C746.83,353.18 750.42,353.08 752.5,353.4 C754.58,353.72 753.42,355.27 757.5,355.6 C761.58,355.93 772.25,356.17 777,355.4 C781.75,354.63 783.45,352.60 786,351 C788.55,349.40 790.58,347.23 792.3,345.8 C794.02,344.37 794.48,343.25 796.3,342.4 C798.12,341.55 801.25,341.02 803.2,340.7 C805.15,340.38 806.03,340.95 808,340.5 C809.97,340.05 812.55,339.12 815,338 C817.45,336.88 820.85,335.65 822.7,333.8 C824.55,331.95 824.95,328.23 826.1,326.9 C827.25,325.57 828.28,326.02 829.6,325.8 C830.92,325.58 832.27,325.98 834,325.6 C835.73,325.22 838.07,324.13 840,323.5 C841.93,322.87 843.90,322.57 845.6,321.8 C847.30,321.03 848.48,319.87 850.2,318.9 C851.92,317.93 854.00,317.53 855.9,316 C857.80,314.47 859.78,310.27 861.6,309.7 C863.42,309.13 865.93,312.12 866.8,312.6" stroke="#111" stroke-width="2.4" fill="none" stroke-linejoin="round" stroke-linecap="round"/>
<g fill="#fefdfe">
<rect x="88.4" y="350.5" width="26.6" height="11.2"/>
<rect x="102.8" y="361.3" width="27.5" height="11.2"/>
<rect x="87.4" y="392.7" width="23.2" height="11.2"/>
<rect x="110.1" y="401.7" width="23.9" height="11.2"/>
<rect x="101.9" y="425.4" width="24.7" height="11.2"/>
<rect x="138.0" y="380.2" width="15.8" height="11.2"/>
<rect x="147.0" y="399.2" width="14.0" height="11.2"/>
<rect x="161.0" y="355.9" width="24.8" height="11.2"/>
<rect x="159.2" y="369.4" width="23.9" height="11.2"/>
<rect x="188.8" y="393.2" width="23.7" height="11.2"/>
<rect x="203.4" y="366.7" width="24.2" height="11.2"/>
<rect x="225.9" y="365.2" width="19.4" height="11.2"/>
<rect x="239.5" y="350.4" width="26.7" height="11.2"/>
<rect x="226.1" y="384.5" width="23.5" height="11.2"/>
<rect x="254.3" y="428.2" width="26.7" height="11.2"/>
<rect x="275.7" y="380.1" width="23.6" height="11.2"/>
<rect x="290.4" y="423.7" width="24.2" height="11.2"/>
<rect x="315.8" y="423.2" width="27.7" height="11.2"/>
<rect x="347.4" y="427.2" width="24.2" height="11.2"/>
<rect x="369.4" y="379.9" width="22.2" height="11.2"/>
<rect x="362.6" y="457.0" width="26.7" height="11.2"/>
<rect x="378.8" y="420.9" width="25.8" height="11.2"/>
<rect x="432.1" y="400.1" width="23.0" height="11.2"/>
<rect x="448.3" y="354.1" width="25.7" height="11.2"/>
<rect x="456.4" y="395.7" width="22.8" height="11.2"/>
<rect x="463.4" y="423.7" width="25.8" height="11.2"/>
<rect x="487.4" y="428.1" width="26.2" height="11.2"/>
<rect x="501.4" y="401.0" width="23.2" height="11.2"/>
<rect x="516.3" y="420.9" width="26.9" height="11.2"/>
<rect x="525.4" y="392.9" width="23.2" height="11.2"/>
<rect x="550.9" y="384.7" width="23.7" height="11.2"/>
<rect x="555.1" y="400.1" width="24.9" height="11.2"/>
<rect x="576.9" y="400.1" width="24.7" height="11.2"/>
<rect x="569.4" y="424.5" width="25.2" height="11.2"/>
<rect x="594.0" y="434.4" width="25.6" height="11.2"/>
<rect x="606.4" y="400.1" width="25.2" height="11.2"/>
<rect x="610.4" y="423.7" width="27.2" height="11.2"/>
<rect x="629.2" y="400.9" width="24.0" height="11.2"/>
<rect x="650.4" y="387.5" width="17.0" height="11.2"/>
<rect x="656.9" y="428.1" width="24.0" height="11.2"/>
<rect x="680.4" y="431.7" width="26.7" height="11.2"/>
<rect x="688.4" y="400.1" width="24.2" height="11.2"/>
<rect x="698.3" y="385.7" width="24.9" height="11.2"/>
<rect x="709.4" y="423.7" width="27.5" height="11.2"/>
<rect x="725.0" y="402.5" width="20.9" height="11.2"/>
<rect x="731.1" y="381.4" width="23.7" height="11.2"/>
<rect x="746.1" y="398.6" width="13.7" height="11.2"/>
<rect x="746.7" y="423.0" width="27.1" height="11.2"/>
<rect x="742.2" y="434.7" width="26.5" height="11.2"/>
<rect x="758.4" y="388.0" width="23.2" height="11.2"/>
<rect x="775.6" y="370.3" width="24.3" height="11.2"/>
<rect x="790.1" y="387.7" width="15.0" height="11.2"/>
<rect x="796.0" y="423.2" width="23.2" height="11.2"/>
<rect x="806.9" y="380.7" width="16.7" height="11.2"/>
<rect x="811.9" y="356.4" width="26.3" height="11.2"/>
<rect x="819.1" y="398.9" width="20.2" height="11.2"/>
<rect x="819.1" y="424.5" width="25.0" height="11.2"/>
<rect x="826.5" y="448.7" width="27.5" height="11.2"/>
<rect x="832.3" y="373.4" width="23.9" height="11.2"/>
<rect x="837.4" y="389.2" width="23.8" height="11.2"/>
<rect x="843.5" y="355.2" width="27.5" height="11.2"/>
<rect x="855.4" y="439.1" width="19.2" height="11.2"/>
<rect x="87.4" y="450.7" width="24.0" height="11.2"/>
<rect x="118.0" y="441.5" width="21.3" height="11.2"/>
<rect x="136.2" y="438.9" width="29.4" height="11.2"/>
<rect x="166.4" y="424.7" width="29.2" height="11.2"/>
<rect x="201.6" y="422.4" width="30.2" height="11.2"/>
<rect x="218.8" y="408.6" width="33.8" height="11.2"/>
<rect x="240.0" y="396.2" width="25.0" height="11.2"/>
<rect x="267.8" y="396.2" width="34.5" height="11.2"/>
<rect x="302.8" y="390.2" width="33.3" height="11.2"/>
<rect x="337.4" y="390.2" width="33.2" height="11.2"/>
<rect x="371.4" y="394.0" width="35.0" height="11.2"/>
<rect x="406.4" y="388.4" width="34.2" height="11.2"/>
<rect x="442.8" y="382.0" width="30.3" height="11.2"/>
<rect x="476.0" y="377.5" width="33.6" height="11.2"/>
<rect x="509.9" y="379.3" width="35.1" height="11.2"/>
<rect x="544.4" y="370.3" width="35.7" height="11.2"/>
<rect x="578.4" y="361.3" width="36.0" height="11.2"/>
<rect x="613.9" y="363.7" width="34.7" height="11.2"/>
<rect x="647.9" y="359.5" width="36.7" height="11.2"/>
<rect x="684.0" y="366.7" width="33.9" height="11.2"/>
<rect x="721.6" y="361.7" width="27.1" height="11.2"/>
<rect x="753.4" y="356.7" width="32.8" height="11.2"/>
<rect x="779.4" y="344.9" width="35.2" height="11.2"/>
<rect x="806.9" y="333.3" width="36.0" height="11.2"/>
<rect x="832.4" y="321.2" width="34.8" height="11.2"/>
</g>
<g font-size="9.4" font-weight="bold" fill="#2b292d" text-anchor="middle" stroke="#2b292d" stroke-width="0.35">
<text x="101.7" y="360.1" textLength="23.4" lengthAdjust="spacingAndGlyphs">13.6K</text>
<text x="116.5" y="370.9" textLength="24.3" lengthAdjust="spacingAndGlyphs">10.7K</text>
<text x="99" y="402.3" textLength="20" lengthAdjust="spacingAndGlyphs">2.7K</text>
<text x="122" y="411.3" textLength="20.7" lengthAdjust="spacingAndGlyphs">0.3K</text>
<text x="114.2" y="435.0" textLength="21.5" lengthAdjust="spacingAndGlyphs">-1.5K</text>
<text x="145.9" y="389.8" textLength="12.6" lengthAdjust="spacingAndGlyphs">6K</text>
<text x="154" y="408.8" textLength="10.8" lengthAdjust="spacingAndGlyphs">1K</text>
<text x="173.4" y="365.5" textLength="21.6" lengthAdjust="spacingAndGlyphs">12.1K</text>
<text x="171.2" y="379.0" textLength="20.7" lengthAdjust="spacingAndGlyphs">8.6K</text>
<text x="200.7" y="402.8" textLength="20.5" lengthAdjust="spacingAndGlyphs">2.6K</text>
<text x="215.5" y="376.3" textLength="21" lengthAdjust="spacingAndGlyphs">9.4K</text>
<text x="235.6" y="374.8" textLength="16.2" lengthAdjust="spacingAndGlyphs">10K</text>
<text x="252.8" y="360.0" textLength="23.5" lengthAdjust="spacingAndGlyphs">13.7K</text>
<text x="237.8" y="394.1" textLength="20.3" lengthAdjust="spacingAndGlyphs">4.7K</text>
<text x="267.7" y="437.8" textLength="23.5" lengthAdjust="spacingAndGlyphs">-2.2K</text>
<text x="287.5" y="389.7" textLength="20.4" lengthAdjust="spacingAndGlyphs">5.9K</text>
<text x="302.5" y="433.3" textLength="21" lengthAdjust="spacingAndGlyphs">-1.2K</text>
<text x="329.7" y="432.8" textLength="24.5" lengthAdjust="spacingAndGlyphs">-0.8K</text>
<text x="359.5" y="436.8" textLength="21" lengthAdjust="spacingAndGlyphs">-1.9K</text>
<text x="380.5" y="389.5" textLength="19" lengthAdjust="spacingAndGlyphs">6.1K</text>
<text x="376" y="466.6" textLength="23.5" lengthAdjust="spacingAndGlyphs">-9.7K</text>
<text x="391.7" y="430.5" textLength="22.6" lengthAdjust="spacingAndGlyphs">-0.2K</text>
<text x="443.6" y="409.7" textLength="19.8" lengthAdjust="spacingAndGlyphs">0.6K</text>
<text x="461.2" y="363.7" textLength="22.5" lengthAdjust="spacingAndGlyphs">12.6K</text>
<text x="467.8" y="405.3" textLength="19.6" lengthAdjust="spacingAndGlyphs">1.9K</text>
<text x="476.3" y="433.3" textLength="22.6" lengthAdjust="spacingAndGlyphs">-0.9K</text>
<text x="500.5" y="437.7" textLength="23" lengthAdjust="spacingAndGlyphs">-2.3K</text>
<text x="513" y="410.6" textLength="20" lengthAdjust="spacingAndGlyphs">0.5K</text>
<text x="529.8" y="430.5" textLength="23.7" lengthAdjust="spacingAndGlyphs">-0.2K</text>
<text x="537" y="402.5" textLength="20" lengthAdjust="spacingAndGlyphs">2.6K</text>
<text x="562.7" y="394.3" textLength="20.5" lengthAdjust="spacingAndGlyphs">4.7K</text>
<text x="567.6" y="409.7" textLength="21.7" lengthAdjust="spacingAndGlyphs">0.8K</text>
<text x="589.3" y="409.7" textLength="21.5" lengthAdjust="spacingAndGlyphs">0.8K</text>
<text x="582" y="434.1" textLength="22" lengthAdjust="spacingAndGlyphs">-1.2K</text>
<text x="606.8" y="444.0" textLength="22.4" lengthAdjust="spacingAndGlyphs">-3.7K</text>
<text x="619" y="409.7" textLength="22" lengthAdjust="spacingAndGlyphs">0.8K</text>
<text x="624" y="433.3" textLength="24" lengthAdjust="spacingAndGlyphs">-0.8K</text>
<text x="641.2" y="410.5" textLength="20.8" lengthAdjust="spacingAndGlyphs">0.6K</text>
<text x="658.9" y="397.1" textLength="13.8" lengthAdjust="spacingAndGlyphs">4K</text>
<text x="668.9" y="437.7" textLength="20.8" lengthAdjust="spacingAndGlyphs">-2.1K</text>
<text x="693.7" y="441.3" textLength="23.5" lengthAdjust="spacingAndGlyphs">-3.2K</text>
<text x="700.5" y="409.7" textLength="21" lengthAdjust="spacingAndGlyphs">0.5K</text>
<text x="710.8" y="395.3" textLength="21.7" lengthAdjust="spacingAndGlyphs">4.4K</text>
<text x="723.1" y="433.3" textLength="24.3" lengthAdjust="spacingAndGlyphs">-0.9K</text>
<text x="735.5" y="412.1" textLength="17.7" lengthAdjust="spacingAndGlyphs">0.1K</text>
<text x="743" y="391.0" textLength="20.5" lengthAdjust="spacingAndGlyphs">5.6K</text>
<text x="753" y="408.2" textLength="10.5" lengthAdjust="spacingAndGlyphs">1K</text>
<text x="760.3" y="432.6" textLength="23.9" lengthAdjust="spacingAndGlyphs">-0.9K</text>
<text x="755.5" y="444.3" textLength="23.3" lengthAdjust="spacingAndGlyphs">-3.9K</text>
<text x="770" y="397.6" textLength="20" lengthAdjust="spacingAndGlyphs">3.7K</text>
<text x="787.8" y="379.9" textLength="21.1" lengthAdjust="spacingAndGlyphs">8.4K</text>
<text x="797.6" y="397.3" textLength="11.8" lengthAdjust="spacingAndGlyphs">4K</text>
<text x="807.6" y="432.8" textLength="20" lengthAdjust="spacingAndGlyphs">-1.1K</text>
<text x="815.2" y="390.3" textLength="13.5" lengthAdjust="spacingAndGlyphs">6K</text>
<text x="825" y="366.0" textLength="23.1" lengthAdjust="spacingAndGlyphs">11.9K</text>
<text x="829.2" y="408.5" textLength="17" lengthAdjust="spacingAndGlyphs">1.1K</text>
<text x="831.6" y="434.1" textLength="21.8" lengthAdjust="spacingAndGlyphs">-1.3K</text>
<text x="840.2" y="458.3" textLength="24.3" lengthAdjust="spacingAndGlyphs">-7.4K</text>
<text x="844.3" y="383.0" textLength="20.7" lengthAdjust="spacingAndGlyphs">7.7K</text>
<text x="849.3" y="398.8" textLength="20.6" lengthAdjust="spacingAndGlyphs">3.6K</text>
<text x="857.2" y="364.8" textLength="24.3" lengthAdjust="spacingAndGlyphs">12.6K</text>
<text x="865" y="448.7" textLength="16" lengthAdjust="spacingAndGlyphs">-5K</text>
<text x="99.4" y="460.3" textLength="20.8" lengthAdjust="spacingAndGlyphs">2.7K</text>
<text x="128.7" y="451.1" textLength="18.1" lengthAdjust="spacingAndGlyphs">26K</text>
<text x="150.9" y="448.5" textLength="26.2" lengthAdjust="spacingAndGlyphs">33.6K</text>
<text x="181" y="434.3" textLength="26" lengthAdjust="spacingAndGlyphs">72.4K</text>
<text x="216.7" y="432.0" textLength="27" lengthAdjust="spacingAndGlyphs">127.5K</text>
<text x="235.7" y="418.2" textLength="30.6" lengthAdjust="spacingAndGlyphs">165.4K</text>
<text x="252.5" y="405.8" textLength="21.8" lengthAdjust="spacingAndGlyphs">201K</text>
<text x="285" y="405.8" textLength="31.3" lengthAdjust="spacingAndGlyphs">202.3K</text>
<text x="319.5" y="399.8" textLength="30.1" lengthAdjust="spacingAndGlyphs">218.8K</text>
<text x="354" y="399.8" textLength="30" lengthAdjust="spacingAndGlyphs">218.4K</text>
<text x="388.9" y="403.6" textLength="31.8" lengthAdjust="spacingAndGlyphs">208.2K</text>
<text x="423.5" y="398.0" textLength="31" lengthAdjust="spacingAndGlyphs">224.6K</text>
<text x="458" y="391.6" textLength="27.1" lengthAdjust="spacingAndGlyphs">241.1K</text>
<text x="492.8" y="387.1" textLength="30.4" lengthAdjust="spacingAndGlyphs">255.5K</text>
<text x="527.5" y="388.9" textLength="31.9" lengthAdjust="spacingAndGlyphs">249.7K</text>
<text x="562.2" y="379.9" textLength="32.5" lengthAdjust="spacingAndGlyphs">274.4K</text>
<text x="596.4" y="370.9" textLength="32.8" lengthAdjust="spacingAndGlyphs">298.6K</text>
<text x="631.2" y="373.3" textLength="31.5" lengthAdjust="spacingAndGlyphs">292.7K</text>
<text x="666.2" y="369.1" textLength="33.5" lengthAdjust="spacingAndGlyphs">304.3K</text>
<text x="701" y="376.3" textLength="30.7" lengthAdjust="spacingAndGlyphs">284.1K</text>
<text x="735.2" y="371.3" textLength="23.9" lengthAdjust="spacingAndGlyphs">297K</text>
<text x="769.8" y="366.3" textLength="29.6" lengthAdjust="spacingAndGlyphs">312.6K</text>
<text x="797" y="354.5" textLength="32" lengthAdjust="spacingAndGlyphs">345.2K</text>
<text x="824.9" y="342.9" textLength="32.8" lengthAdjust="spacingAndGlyphs">378.8K</text>
<text x="849.8" y="330.8" textLength="31.6" lengthAdjust="spacingAndGlyphs">410.4K</text>
</g>
<rect x="353.8" y="520" width="7.6" height="10" rx="1.3" fill="#222026"/>
<text x="364" y="528.4" font-size="11.5" fill="#4d4b50" textLength="138.7" lengthAdjust="spacingAndGlyphs">Total Net BTC flows to ETFs</text>
<rect x="508.2" y="519.8" width="7.5" height="9.6" rx="1" fill="#f0c95a"/>
<text x="518" y="528.4" font-size="11.5" fill="#4d4b50" textLength="80" lengthAdjust="spacingAndGlyphs">Daily ETF Flows</text>
<circle cx="398.1" cy="547.8" r="6.4" fill="none" stroke="#7b7a7e" stroke-width="1"/>
<path d="M398.1,543.6 C398.9,543.6 399.2,544.6 399.5,546.2 L401.9,551.4 L394.3,551.4 L396.7,546.2 C397.0,544.6 397.3,543.6 398.1,543.6 Z" fill="#3d3c38"/>
<text x="408.1" y="550.8" font-size="11.5" font-weight="bold" fill="#2a282c" textLength="163" lengthAdjust="spacingAndGlyphs">heyapollo.com/bitcoin-tracker</text>
<path d="M774,694.6 L778.6,702.2 L769.4,702.2 Z" fill="#7fc8da" stroke="#7fc8da" stroke-width="7" stroke-linejoin="round"/>
<path d="M770.8,703.4 L774,695.0 L777.2,703.4 M772.0,700.2 L776.0,700.2" fill="none" stroke="#17293a" stroke-width="2.2" stroke-linejoin="round"/>
<text x="794.6" y="703.1" font-size="13" fill="#a3bcc8" textLength="140.4" lengthAdjust="spacingAndGlyphs">AINSLIECRYPTO.COM.AU</text>
</svg>
</body></html>
